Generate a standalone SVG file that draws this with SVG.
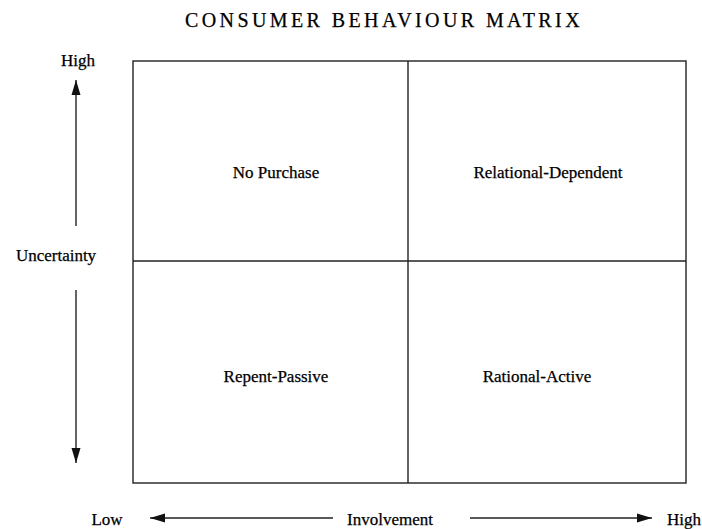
<svg xmlns="http://www.w3.org/2000/svg" width="702" height="529" viewBox="0 0 702 529">
<style>
text{font-family:"Liberation Serif","Times New Roman",serif;fill:#000;font-size:17px;stroke:#000;stroke-width:0.25}
.t{font-size:20px;letter-spacing:3.4px}
.ln{stroke:#222;stroke-width:1.4;fill:none}
.ar{stroke:#222;stroke-width:1.4;fill:none}
</style>
<defs>
<marker id="ahw" viewBox="0 0 10 10" refX="10" refY="5" markerWidth="15" markerHeight="10" markerUnits="userSpaceOnUse" orient="auto" preserveAspectRatio="none">
<path d="M0,0.5 L10,5 L0,9.5 Z" fill="#111"/>
</marker>
</defs>
<text class="t" x="384" y="27" text-anchor="middle">CONSUMER BEHAVIOUR MATRIX</text>
<g id="matrix">
<rect class="ln" x="133" y="61" width="553" height="422"/>
<line class="ln" x1="408" y1="61" x2="408" y2="483"/>
<line class="ln" x1="133" y1="261" x2="686" y2="261"/>
</g>
<g id="q-no-purchase"><text x="276" y="178" text-anchor="middle">No Purchase</text></g>
<g id="q-relational-dependent"><text x="548" y="178" text-anchor="middle">Relational-Dependent</text></g>
<g id="q-repent-passive"><text x="276" y="382" text-anchor="middle">Repent-Passive</text></g>
<g id="q-rational-active"><text x="537" y="382" text-anchor="middle">Rational-Active</text></g>
<g id="axis-labels">
<text x="78" y="66" text-anchor="middle">High</text>
<text x="56" y="261" text-anchor="middle">Uncertainty</text>
<text x="107" y="525" text-anchor="middle">Low</text>
<text x="390" y="525" text-anchor="middle">Involvement</text>
<text x="684" y="525" text-anchor="middle">High</text>
</g>
<g id="connectors">
<line class="ar" x1="76" y1="226" x2="76" y2="80" marker-end="url(#ahw)"/>
<line class="ar" x1="76" y1="290" x2="76" y2="463" marker-end="url(#ahw)"/>
<line class="ar" x1="333" y1="518" x2="150" y2="518" marker-end="url(#ahw)"/>
<line class="ar" x1="470" y1="518" x2="652" y2="518" marker-end="url(#ahw)"/>
</g>
</svg>
